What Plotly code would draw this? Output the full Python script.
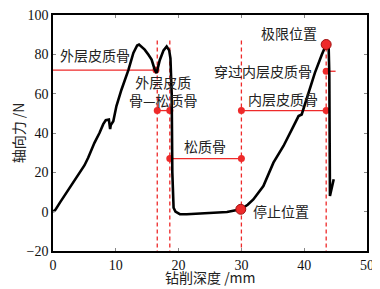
import plotly.graph_objects as go

# Black force curve
depth = [0, 0.4, 1.1, 2.0, 2.7, 3.5, 4.3, 5.0, 5.6, 6.6, 7.4, 8.0, 8.4, 8.9, 9.1, 9.2, 9.6,
         10.1, 10.9, 12.0, 12.8, 13.4, 13.7, 14.1, 14.6, 15.2, 15.7, 16.2, 16.5, 17.0, 17.6,
         18.1, 18.5, 18.7, 18.9, 19.0, 19.2, 19.5, 20.2, 21.3, 24.5, 27.7, 29.9, 31.0, 31.9,
         33.5, 35.1, 36.7, 38.3, 39.1, 39.6, 40.7, 41.7, 42.8, 43.5, 43.9, 44.0, 44.1, 44.4, 44.7]
force = [0, 1, 4.6, 9, 12.2, 16, 20, 23.5, 27.4, 35, 40, 44.5, 46.5, 46.8, 42, 44, 46,
         53.7, 62, 72, 80.7, 84.5, 85, 84, 82.4, 79.8, 77.3, 72.2, 70.5, 77, 82,
         84, 82, 78, 60, 20, 2, 0, -1.3, -1.3, -0.9, -0.2, 1.2, 3.5, 6.2,
         13, 24.9, 33.4, 43.5, 48.6, 49.4, 60.4, 70.6, 79.8, 85, 83, 70, 8, 13, 16.5]

# Red dashed boundaries
boundary_x = [16.6, 18.6, 30.0, 43.5]
boundary_top = 87
boundary_bottom = -20

# Red segment annotations: (x0, x1, y)
seg_x0 = [-0.3, 16.6, 18.6, 30.0, 43.5]
seg_x1 = [16.4, 18.6, 30.0, 43.5, 45.0]
seg_y = [72, 51.4, 27, 51.4, 71.4]
seg_dot_end = [True, True, True, True, False]

# Labels
label_text = ["外层皮质骨", "外层皮质<br>骨—松质骨", "松质骨", "内层皮质骨", "穿过内层皮质骨", "极限位置", "停止位置"]
label_x = [6.7, 17.6, 24.2, 36.6, 33.4, 37.6, 31.6]
label_y = [79.9, 61.4, 33.5, 57.3, 71.4, 91.0, 0.5]
label_anchor = ["center", "center", "center", "center", "center", "center", "left"]

x_title = "钻削深度 /mm"
y_title = "轴向力 /N"

# Key points (red dots)
key_x = [43.5, 29.9]
key_y = [85, 1.2]

RED = "#ee2a2a"
fig = go.Figure()

for bx in boundary_x:
    fig.add_trace(go.Scatter(x=[bx, bx], y=[boundary_top, boundary_bottom], mode="lines",
                             line=dict(color=RED, width=1.3, dash="4px,3px"), showlegend=False,
                             hoverinfo="skip"))

for x0, x1, y, de in zip(seg_x0, seg_x1, seg_y, seg_dot_end):
    fig.add_trace(go.Scatter(x=[x0, x1], y=[y, y], mode="lines", line=dict(color=RED, width=1.3),
                             showlegend=False, cliponaxis=False, hoverinfo="skip"))
    dots_x = [x0, x1] if de else [x0]
    fig.add_trace(go.Scatter(x=dots_x, y=[y] * len(dots_x), mode="markers",
                             marker=dict(color=RED, size=7), showlegend=False, cliponaxis=False,
                             hoverinfo="skip"))

fig.add_trace(go.Scatter(x=depth, y=force, mode="lines", line=dict(color="black", width=2.6),
                         showlegend=False, cliponaxis=False))

fig.add_trace(go.Scatter(x=key_x, y=key_y, mode="markers",
                         marker=dict(color=RED, size=10, line=dict(color="#a01010", width=1)),
                         showlegend=False, cliponaxis=False))

for t, x, y, a in zip(label_text, label_x, label_y, label_anchor):
    fig.add_annotation(x=x, y=y, text=t, showarrow=False, xanchor=a, yanchor="middle",
                       font=dict(size=14, color="#222222", family="Noto Sans CJK SC"))

# x-axis title as a paper annotation below the tick labels
fig.add_annotation(x=0.5, y=0, xref="paper", yref="paper", text=x_title, showarrow=False,
                   xanchor="center", yanchor="middle", yshift=-26,
                   font=dict(size=14, color="#222222", family="Noto Sans CJK SC"))

axis_common = dict(showline=True, linecolor="black", linewidth=1.5, mirror="ticks",
                   ticks="inside", ticklen=3, tickcolor="#888888", showgrid=False, zeroline=False,
                   automargin=False, ticklabeloverflow="allow",
                   tickfont=dict(family="Liberation Serif", size=14, color="#111111"))

fig.update_xaxes(range=[0, 50], tickvals=[0, 10, 20, 30, 40, 50], **axis_common)
fig.update_yaxes(range=[-20, 100], tickvals=[-20, 0, 20, 40, 60, 80, 100],
                 title=dict(text=y_title, standoff=6,
                            font=dict(family="Noto Sans CJK SC", size=14, color="#222222")),
                 **axis_common)

# page body has an 8px margin; compensate so the plot area lands where the reference has it
fig.update_layout(width=372, height=281, margin=dict(l=45, r=13, t=7, b=38),
                  plot_bgcolor="white", paper_bgcolor="white")

fig.write_html("out.html")
